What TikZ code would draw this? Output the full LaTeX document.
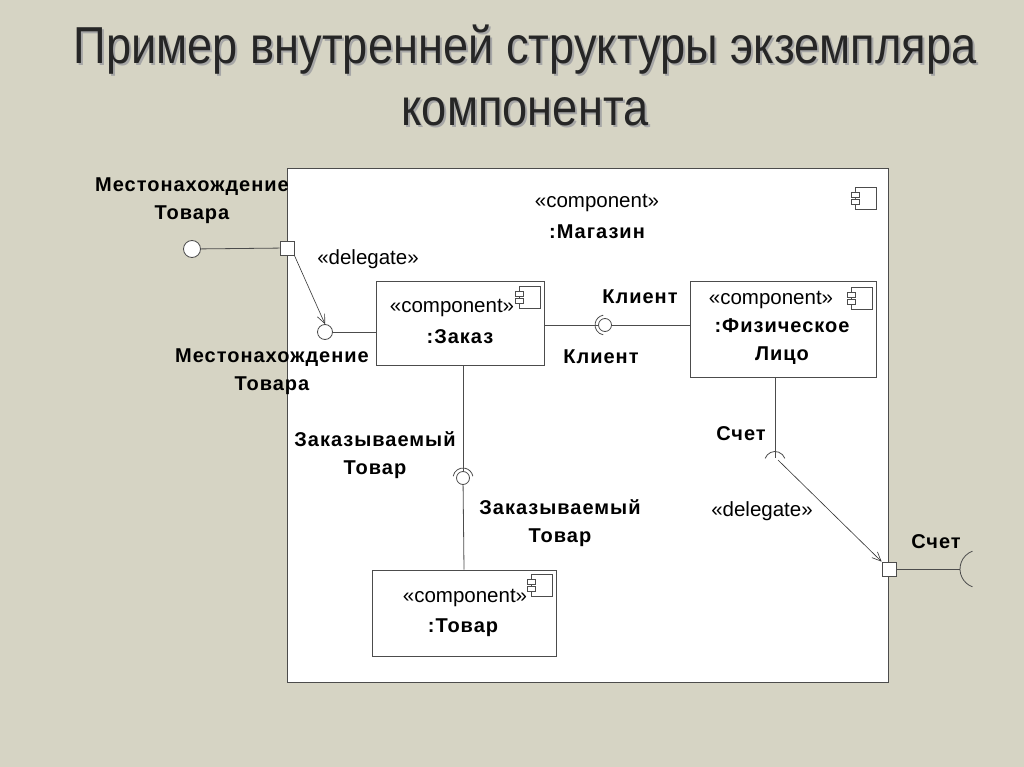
\documentclass[tikz,border=0pt]{standalone}
\usepackage{fontspec}
\setmainfont{Liberation Sans}
\newfontfamily\lblfont[LetterSpace=5]{Liberation Sans}
\usetikzlibrary{arrows.meta}
\begin{document}
\begin{tikzpicture}[x=1pt,y=-1pt,
  box/.style={draw=black!70,fill=white,line width=0.8pt},
  ln/.style={draw=black!70,line width=0.8pt},
  lbl/.style={font=\lblfont\fontsize{20}{28}\selectfont\bfseries,align=center,inner sep=0pt},
  st/.style={font=\fontsize{20.5}{22}\selectfont,inner sep=0pt},
  dl/.style={draw=black!80,line width=0.6pt,-{Straight Barb[length=9pt,width=8pt]}},
  ball/.style={circle,draw=black!70,fill=white,line width=0.8pt,minimum size=15pt,inner sep=0pt},
  port/.style={draw=black!70,fill=white,line width=0.8pt,minimum size=14pt,inner sep=0pt},
  title/.style={font=\fontsize{52}{56}\selectfont,xscale=0.87,transform shape,text=black!85},
  icon/.pic={\draw[black!70,line width=0.7pt,fill=white] (-7,-11) rectangle (14,11);
    \draw[black!70,line width=0.7pt,fill=white] (-11,-6) rectangle (-3,-1) (-11,1) rectangle (-3,6);}]
\fill[fill={rgb,255:red,214;green,212;blue,196}] (0,0) rectangle (1024,767);
\useasboundingbox (0,0) rectangle (1024,767);
\node[title,text=black!35] at (527,52) {Пример внутренней структуры экземпляра};
\node[title,text=black!35] at (527,114) {компонента};
\node[title] (t1) at (525,50) {Пример внутренней структуры экземпляра};
\node[title] (t2) at (525,112) {компонента};
% outer
\node[box,minimum width=601pt,minimum height=514pt,inner sep=0pt] (mag) at (587.5,425) {};
\pic at (862,198) {icon};
\node[st] (m1) at (597,203) {«component»};
\node[lbl] (m2) at (597,232) {:Магазин};
% left port
\node[port] (p1) at (287,248) {};
\node[ball,minimum size=17pt] (b1) at (192,249) {};
\draw[ln] (b1) -- (p1);
\node[lbl] (l1) at (192,201) {Местонахождение\\Товара};
\node[st] (d1) at (368,259) {«delegate»};
% Заказ
\node[box,minimum width=168pt,minimum height=84pt,inner sep=0pt] (zak) at (460,323) {};
\pic at (526,297) {icon};
\node[st] (z1) at (452,308) {«component»};
\node[lbl] (z2) at (460,337) {:Заказ};
\node[ball] (b2) at (325,332) {};
\draw[ln] (b2) -- (zak.west |- b2);
\draw[dl] (p1.south east) -- (b2.north);
\node[lbl] (l2) at (272,372) {Местонахождение\\Товара};
% Физ
\node[box,minimum width=186pt,minimum height=96pt,inner sep=0pt] (fiz) at (783,329) {};
\pic at (858,298) {icon};
\node[st] (f1) at (771,300) {«component»};
\node[lbl] (f2) at (782,342) {:Физическое\\Лицо};
% Клиент
\node[ball,minimum size=13pt] (b3) at (605,325) {};
\draw[ln] (zak.east |- b3) -- (b3);
\draw[ln] (fiz.west |- b3) -- (b3.east);
\draw[ln] ([shift={(100:10)}]605,325) arc[start angle=100,end angle=260,radius=10];
\node[lbl] (k1) at (640,297) {Клиент};
\node[lbl] (k2) at (601,357) {Клиент};
% Счет
\coordinate (s1) at (775,458);
\draw[ln] (775,377) -- (s1);
\draw[ln] ([shift={(200:10.5)}]775,462) arc[start angle=200,end angle=340,radius=10.5];
\node[lbl] (c1) at (741,434) {Счет};
\node[port] (p2) at (889,569) {};
\draw[dl] (778,460) -- (p2.north west);
\node[st] (d2) at (762,511) {«delegate»};
\draw[ln] (p2) -- (960,569);
\draw[ln] ([shift={(110:19)}]979,569) arc[start angle=110,end angle=250,radius=19];
\node[lbl] (c2) at (936,542) {Счет};
% Товар
\node[box,minimum width=184pt,minimum height=86pt,inner sep=0pt] (tov) at (464,613) {};
\pic at (538,585) {icon};
\node[st] (v1) at (465,598) {«component»};
\node[lbl] (v2) at (463,628) {:Товар};
\node[ball,minimum size=13pt] (b4) at (463,478) {};
\draw[ln] (463,365) -- (b4);
\draw[ln] (b4) -- (tov.north);
\draw[ln] ([shift={(190:10)}]463,478) arc[start angle=190,end angle=350,radius=10];
\node[lbl] (o1) at (375,455) {Заказываемый\\Товар};
\node[lbl] (o2) at (560,523) {Заказываемый\\Товар};
\end{tikzpicture}
\end{document}
